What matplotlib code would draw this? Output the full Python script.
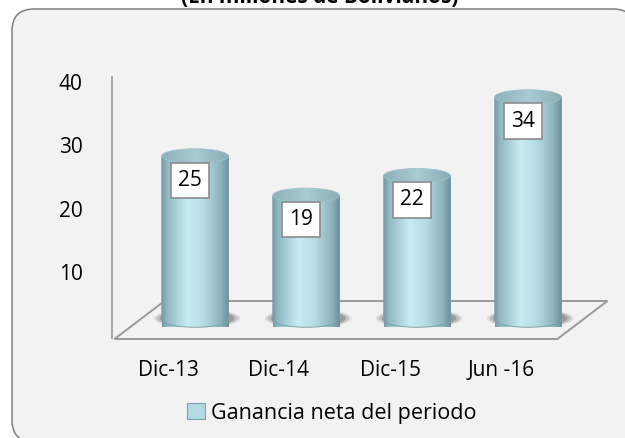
import numpy as np
import matplotlib
matplotlib.use("Agg")
import matplotlib.pyplot as plt
from matplotlib.patches import FancyBboxPatch, PathPatch, Ellipse, Patch, Polygon
from matplotlib.path import Path
from matplotlib.colors import LinearSegmentedColormap
from matplotlib.transforms import IdentityTransform, ScaledTranslation

# data
periods = ["Dic-13", "Dic-14", "Dic-15", "Jun -16"]
ganancia = [25, 19, 22, 34]
y_ticks = [10, 20, 30, 40]
title = "(En millones de Bolivianos)"
series_name = "Ganancia neta del periodo"

plt.rcParams['font.family'] = ['Open Sans', 'DejaVu Sans']
FS = 15

body_cmap = LinearSegmentedColormap.from_list("body", [
    (0.0, '#779ca6'), (0.08, '#92bac4'), (0.38, '#c7ebf3'),
    (0.62, '#b6dde6'), (0.88, '#8cb2bc'), (1.0, '#6b8f99')])
top_cmap = LinearSegmentedColormap.from_list("top", [
    (0.0, '#8db1ba'), (0.5, '#a9cbd3'), (1.0, '#89adb6')])


def draw_cylinder(ax, cx, val, w=0.6, eh=2.2):
    # shadow on the floor
    for k, a in [(1.3, 0.12), (1.22, 0.2), (1.12, 0.3)]:
        ax.add_patch(Ellipse((cx + 0.02, 0.25), w * k, eh * k,
                             facecolor='#4a4a4a', edgecolor='none', alpha=a,
                             zorder=2, clip_on=False))
    # body: bottom half ellipse + straight sides
    t = np.linspace(np.pi, 2 * np.pi, 40)
    xs = list(cx + w / 2 * np.cos(t)) + [cx + w / 2, cx - w / 2]
    ys = list(eh / 2 * np.sin(t)) + [val, val]
    verts = list(zip(xs, ys)) + [(xs[0], ys[0])]
    codes = [Path.MOVETO] + [Path.LINETO] * (len(verts) - 2) + [Path.CLOSEPOLY]
    body = PathPatch(Path(verts, codes), facecolor='none', edgecolor='#7b9ea7',
                     lw=0.6, zorder=4, clip_on=False)
    ax.add_patch(body)
    grad = np.linspace(0, 1, 256).reshape(1, -1)
    im = ax.imshow(grad, cmap=body_cmap, aspect='auto', zorder=3,
                   extent=(cx - w / 2, cx + w / 2, -eh / 2, val), clip_on=False)
    im.set_clip_path(body)
    # top
    top = Ellipse((cx, val), w, eh, facecolor='none', edgecolor='#9fc2ca',
                  lw=0.6, zorder=6)
    ax.add_patch(top)
    im2 = ax.imshow(grad, cmap=top_cmap, aspect='auto', zorder=5,
                    extent=(cx - w / 2, cx + w / 2, val - eh / 2, val + eh / 2))
    im2.set_clip_path(top)


fig = plt.figure(figsize=(6.25, 4.38), dpi=100)
fig.patch.set_facecolor('white')

# rounded chart area
bg = FancyBboxPatch((12, -4), 623, 433, boxstyle="round,pad=0,rounding_size=22",
                    transform=IdentityTransform(), facecolor='#f2f2f2',
                    edgecolor='#808080', lw=1.1, zorder=-5)
fig.patches.append(bg)

fig.text(0.512, 1 - 8 / 438, title, ha='center', va='bottom',
         fontsize=15, fontweight='bold')

# value axis on the front plane
ax2 = fig.add_axes([112 / 625, 100 / 438, 0.3, 261 / 438])
ax2.set_facecolor('none')
ax2.set_ylim(-0.47, 40.79)
ax2.set_yticks(y_ticks)
ax2.tick_params(axis='y', length=0, pad=21, labelsize=FS)
ax2.set_xticks([])
for s in ['top', 'right', 'bottom']:
    ax2.spines[s].set_visible(False)
ax2.spines['left'].set_color('#999999')
ax2.spines['left'].set_linewidth(1.2)

# main axes, mid-depth plane
ax = fig.add_axes([139.5 / 625, 118 / 438, 444 / 625, 262.4 / 438])
ax.set_facecolor('none')
ax.set_xlim(-0.5, 3.5)
ax.set_ylim(0, 40)
for s in ax.spines.values():
    s.set_visible(False)
ax.set_yticks([])
x = np.arange(len(periods))
ax.set_xticks(x)
ax.set_xticklabels(periods, fontsize=FS)
ax.tick_params(axis='x', length=0, pad=29)
front = ScaledTranslation(-0.27, 0, fig.dpi_scale_trans)
for lab in ax.get_xticklabels():
    lab.set_transform(lab.get_transform() + front)

# floor
dx, dy = 25 / 100, 19 / 100
f_off = ax.transData + ScaledTranslation(-dx, -dy, fig.dpi_scale_trans)
b_off = ax.transData + ScaledTranslation(dx, dy, fig.dpi_scale_trans)
ft = [f_off.transform((-0.5, 0)), f_off.transform((3.49, 0))]
bk = [b_off.transform((3.49, 0)), b_off.transform((-0.5, 0))]
inv = ax.transData.inverted()
floor_pts = [inv.transform(p) for p in ft + bk]
ax.add_patch(Polygon(floor_pts, closed=True, facecolor='#f2f2f2',
                     edgecolor='#9a9a9a', lw=1.4, zorder=1, clip_on=False))

for xi, v in zip(x, ganancia):
    draw_cylinder(ax, xi, v)
    ax.annotate(str(v), xy=(xi, v), xytext=(-3.6, -17.5),
                textcoords='offset points', ha='center', va='center',
                fontsize=FS, zorder=8,
                bbox=dict(boxstyle='square,pad=0.35', facecolor='white',
                          edgecolor='#8c8c8c', lw=1.2))

handle = Patch(facecolor='#b3d9e2', edgecolor='#7ea2ab', lw=0.8)
fig.legend([handle], [series_name], loc='center',
           bbox_to_anchor=(332 / 625, 1 - 413 / 438), frameon=False,
           fontsize=FS + 0.5, handlelength=0.8, handleheight=0.8,
           handletextpad=0.3)

fig.savefig("out.png", dpi=100)
